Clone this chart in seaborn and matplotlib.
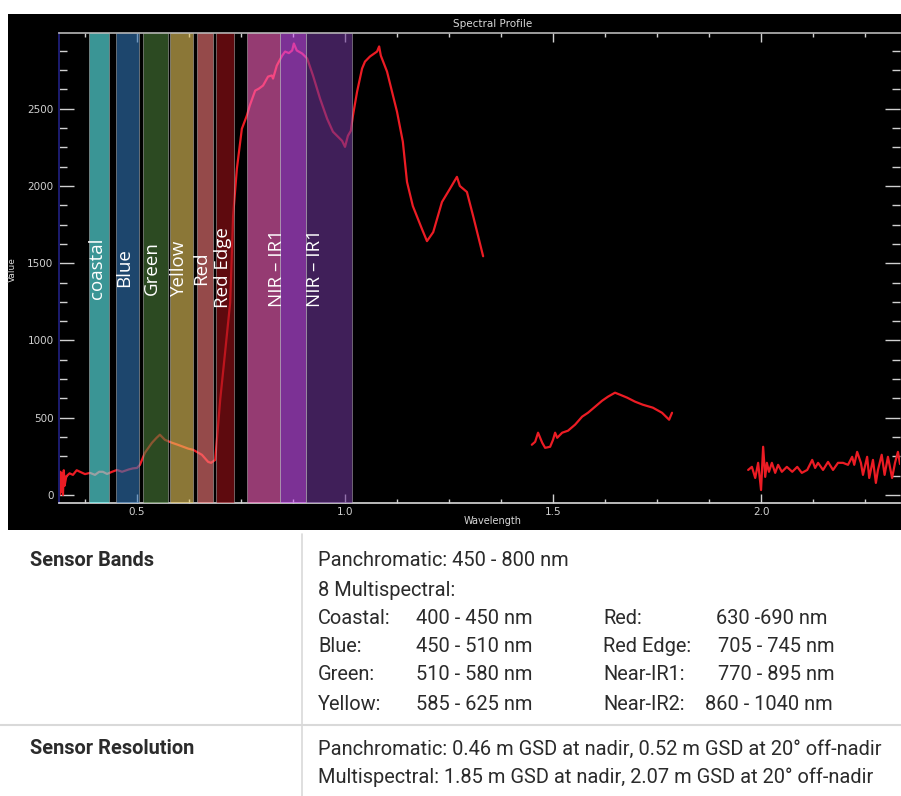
import pandas as pd
import seaborn as sns
import matplotlib.pyplot as plt
from matplotlib.patches import Rectangle
from matplotlib.lines import Line2D
from matplotlib.ticker import MultipleLocator
import matplotlib.transforms as mtransforms

## spectrum (wavelength in micrometres, value)
seg1_wl = [0.3125, 0.314, 0.316, 0.318, 0.320, 0.322, 0.324, 0.326, 0.330, 0.338, 0.346, 0.355,
           0.363, 0.375, 0.387, 0.399, 0.409, 0.418, 0.428, 0.440, 0.452, 0.464, 0.480, 0.490,
           0.500, 0.507, 0.519, 0.536, 0.547, 0.555, 0.567, 0.584, 0.598, 0.611, 0.623, 0.635,
           0.656, 0.671, 0.678, 0.688, 0.692, 0.700, 0.712, 0.724, 0.731, 0.740, 0.752, 0.764,
           0.771, 0.784, 0.793, 0.803, 0.815, 0.824, 0.827, 0.836, 0.849, 0.856, 0.865, 0.873,
           0.877, 0.884, 0.897, 0.909, 0.923, 0.940, 0.957, 0.971, 0.993, 1.000, 1.007, 1.014,
           1.019, 1.029, 1.041, 1.048, 1.060, 1.077, 1.082, 1.086, 1.101, 1.125, 1.139, 1.149,
           1.163, 1.185, 1.197, 1.212, 1.233, 1.252, 1.269, 1.276, 1.293, 1.308, 1.320, 1.332]
seg1_val = [80, 0, 150, 20, 140, 0, 160, 60, 120, 140, 130, 160,
            150, 135, 143, 130, 150, 150, 136, 150, 162, 150, 165, 172,
            175, 195, 273, 338, 370, 390, 357, 338, 325, 312, 300, 292,
            260, 214, 208, 227, 357, 617, 930, 1247, 1805, 2110, 2370, 2455,
            2520, 2617, 2630, 2650, 2708, 2715, 2695, 2779, 2844, 2870, 2860, 2877,
            2922, 2877, 2857, 2825, 2715, 2565, 2435, 2351, 2292, 2253, 2325, 2357,
            2455, 2610, 2760, 2805, 2838, 2870, 2903, 2844, 2740, 2480, 2286, 2026,
            1870, 1721, 1643, 1701, 1896, 1981, 2059, 2000, 1961, 1805, 1675, 1545]

seg2_wl = [1.449, 1.457, 1.464, 1.474, 1.481, 1.493, 1.500, 1.505, 1.510, 1.522, 1.536, 1.553,
           1.570, 1.584, 1.601, 1.618, 1.632, 1.649, 1.661, 1.678, 1.697, 1.716, 1.740, 1.762,
           1.779, 1.786]
seg2_val = [325, 344, 403, 338, 305, 312, 357, 403, 370, 403, 416, 455,
            507, 532, 571, 610, 636, 662, 649, 630, 604, 584, 565, 532,
            487, 532]

seg3_wl = [1.969, 1.978, 1.986, 1.993, 2.000, 2.005, 2.010, 2.014, 2.019, 2.026, 2.034, 2.041,
           2.050, 2.062, 2.075, 2.087, 2.098, 2.111, 2.123, 2.130, 2.137, 2.149, 2.161, 2.173,
           2.185, 2.197, 2.209, 2.219, 2.224, 2.231, 2.240, 2.245, 2.255, 2.260, 2.269, 2.276,
           2.281, 2.290, 2.297, 2.305, 2.315, 2.322, 2.329, 2.334]
seg3_val = [162, 182, 110, 208, 32, 312, 117, 208, 150, 208, 143, 195,
            150, 182, 150, 182, 143, 162, 227, 175, 208, 162, 214, 162,
            208, 208, 195, 247, 195, 279, 208, 130, 247, 110, 227, 78,
            162, 260, 130, 247, 110, 208, 279, 200]

## WorldView-2 band overlays (as drawn on the picture)
band_names = ["coastal", "Blue", "Green", "Yellow", "Red", "Red Edge", "NIR \u2013 IR1", "", "NIR \u2013 IR1"]
band_start = [0.385, 0.450, 0.514, 0.579, 0.644, 0.690, 0.764, 0.844, 0.906]
band_end = [0.433, 0.505, 0.575, 0.635, 0.683, 0.733, 0.844, 0.906, 1.017]
band_colors = ["#61f9f9", "#3275b7", "#4b7d3a", "#e9c85c", "#fa7d7d", "#9e1119",
               "#fa64c0", "#d053fa", "#6c3596"]
label_x = [0.405, 0.469, 0.536, 0.601, 0.655, 0.706, 0.837, 0.928]

## table text
bands_header = "Sensor Bands"
res_header = "Sensor Resolution"
pan_band = "Panchromatic: 450 - 800 nm"
ms_title = "8 Multispectral:"
ms_left_names = ["Coastal:", "Blue:", "Green:", "Yellow:"]
ms_left_ranges = ["400 - 450 nm", "450 - 510 nm", "510 - 580 nm", "585 - 625 nm"]
ms_right_names = ["Red:", "Red Edge:", "Near-IR1:", "Near-IR2:"]
ms_right_ranges = ["630 -690 nm", "705 - 745 nm", "770 - 895 nm", "860 - 1040 nm"]
res_lines = ["Panchromatic: 0.46 m GSD at nadir, 0.52 m GSD at 20\u00b0 off-nadir",
             "Multispectral: 1.85 m GSD at nadir, 2.07 m GSD at 20\u00b0 off-nadir"]

W, H = 901, 796

def fx(px):
    return px / W

def fy(py):
    return 1 - py / H

sns.set_theme(style="dark")
plt.rcParams['font.family'] = ['DejaVu Sans']

fig = plt.figure(figsize=(W / 100, H / 100), dpi=100, facecolor="white")
fig.patches.append(Rectangle((fx(8), fy(530)), fx(893), 516 / H, transform=fig.transFigure,
                             facecolor="black", edgecolor="none", zorder=-10))

ax = fig.add_axes([fx(59), fy(503), fx(841), 470 / H])
ax.set_facecolor("black")

frames = []
for i, (w, v) in enumerate([(seg1_wl, seg1_val), (seg2_wl, seg2_val), (seg3_wl, seg3_val)]):
    frames.append(pd.DataFrame({"wl": w, "val": v, "seg": i}))
df = pd.concat(frames, ignore_index=True)

sns.lineplot(data=df, x="wl", y="val", units="seg", estimator=None, sort=False,
             color="#ec1c24", lw=1.6, ax=ax, zorder=2)

for s, e, c in zip(band_start, band_end, band_colors):
    ax.axvspan(s, e, facecolor=c, edgecolor="#b8b8b8", alpha=0.6, lw=0.6, zorder=3)

trans = mtransforms.blended_transform_factory(ax.transData, ax.transAxes)
for name, lx in zip([n for n in band_names if n], label_x):
    ax.text(lx, 0.5, name, transform=trans, rotation=90, ha="center", va="center",
            color="white", fontsize=13.5, family=["Open Sans", "DejaVu Sans"], zorder=4)

ax.set_xlim(0.3125, 2.334)
ax.set_ylim(-52, 2990)
ax.xaxis.set_major_locator(MultipleLocator(0.5))
ax.xaxis.set_minor_locator(MultipleLocator(0.125))
ax.yaxis.set_major_locator(MultipleLocator(500))
ax.yaxis.set_minor_locator(MultipleLocator(125))
ax.set_xticks([0.5, 1.0, 1.5, 2.0])
ax.set_xticklabels(["0.5", "1.0", "1.5", "2.0"])
ax.tick_params(axis="x", which="major", direction="in", length=6.5, width=1, color="#d0d0d0",
               top=True, bottom=True, labelsize=7.5, labelcolor="#d0d0d0", pad=3)
ax.tick_params(axis="x", which="minor", direction="in", length=3, width=1, color="#d0d0d0",
               top=True, bottom=True)
ax.tick_params(axis="y", which="major", direction="in", length=11, width=1, color="#d0d0d0",
               left=True, right=True, labelsize=7.5, labelcolor="#d0d0d0", pad=4)
ax.tick_params(axis="y", which="minor", direction="in", length=5.5, width=1, color="#d0d0d0",
               left=True, right=True)
ax.set_xlabel("")
ax.set_ylabel("")
ax.grid(False)
ax.spines["left"].set_color("#1c1c70")
ax.spines["left"].set_linewidth(1.4)
ax.spines["top"].set_color("#b0b0b0")
ax.spines["bottom"].set_color("#d0d0d0")
ax.spines["right"].set_visible(False)
for sp in ["left", "top", "bottom"]:
    ax.spines[sp].set_visible(True)

fig.text(fx(493), fy(24), "Spectral Profile", ha="center", va="center", color="#d8d8d8", fontsize=7.5)
fig.text(fx(493), fy(521), "Wavelength", ha="center", va="center", color="#d8d8d8", fontsize=7)
fig.text(fx(12), fy(270), "Value", ha="center", va="center", rotation=90, color="#d8d8d8", fontsize=6.5)

## table below the chart
fig.add_artist(Line2D([0, 1], [fy(725), fy(725)], transform=fig.transFigure, color="#d9d9d9", lw=1.5))
fig.add_artist(Line2D([fx(302), fx(302)], [fy(534), 0], transform=fig.transFigure, color="#d9d9d9", lw=1.2))

tfont = dict(family=["Roboto", "DejaVu Sans"], fontsize=14.4, color="#2b2b2b", va="center", ha="left")
fig.text(fx(30), fy(561), bands_header, fontweight="bold", **tfont)
fig.text(fx(30), fy(749), res_header, fontweight="bold", **tfont)
fig.text(fx(318), fy(561), pan_band, **tfont)
fig.text(fx(318), fy(590), ms_title, **tfont)
row_y = [619, 647, 675, 704]
right_range_x = [716, 718, 718, 705]
for i in range(4):
    fig.text(fx(318), fy(row_y[i]), ms_left_names[i], **tfont)
    fig.text(fx(416), fy(row_y[i]), ms_left_ranges[i], **tfont)
    fig.text(fx(603), fy(row_y[i]), ms_right_names[i], **tfont)
    fig.text(fx(right_range_x[i]), fy(row_y[i]), ms_right_ranges[i], **tfont)
fig.text(fx(318), fy(749), res_lines[0], **tfont)
fig.text(fx(318), fy(777), res_lines[1], **tfont)

plt.savefig("out.png", dpi=100, facecolor="white")
